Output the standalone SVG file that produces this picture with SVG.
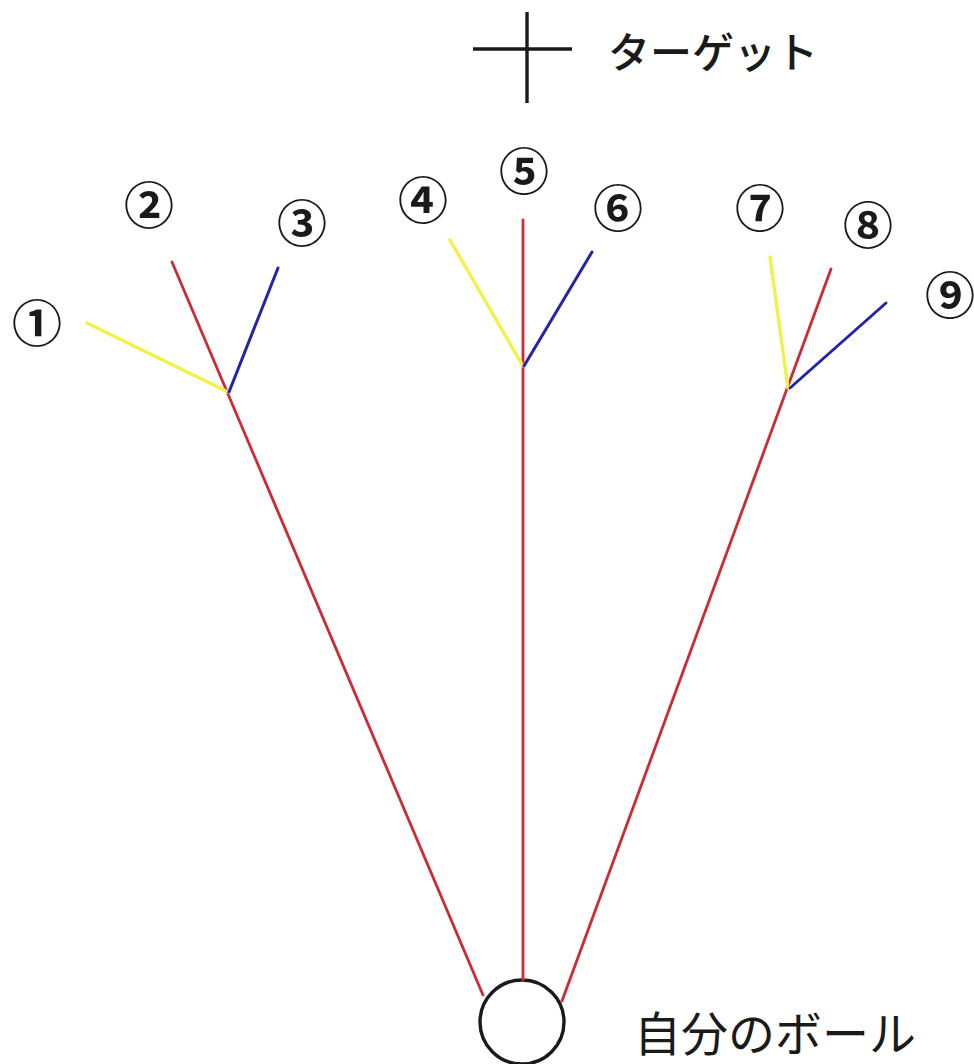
<svg xmlns="http://www.w3.org/2000/svg" width="974" height="1064" viewBox="0 0 974 1064">
  <style>
    .red { stroke: #cc2a35; stroke-width: 2.8; fill: none; stroke-linecap: round; }
    .yel { stroke: #f2f04a; stroke-width: 3.4; fill: none; stroke-linecap: round; }
    .blu { stroke: #2424a8; stroke-width: 3; fill: none; stroke-linecap: round; }
    .blk { stroke: #1a1a1a; stroke-width: 3.4; fill: none; }
    .num { font-family: "Noto Sans CJK JP", "DejaVu Sans", sans-serif; font-size: 50px; font-weight: 700; fill: #1a1a1a; text-anchor: middle; dominant-baseline: central; }
    .lbl { font-family: "Noto Sans CJK JP", sans-serif; fill: #1a1a1a; dominant-baseline: central; }
  </style>
  <rect width="974" height="1064" fill="#ffffff"/>

  <!-- target mark -->
  <g id="target">
    <line class="blk" x1="473" y1="49" x2="572" y2="49"/>
    <line class="blk" x1="527" y1="12" x2="527" y2="103"/>
    <text class="lbl" x="608" y="49" font-size="42" font-weight="500">ターゲット</text>
  </g>

  <!-- own ball -->
  <g id="ball">
    <circle class="blk" cx="522" cy="1022" r="42" fill="#ffffff"/>
    <text class="lbl" x="634" y="1030" font-size="47">自分のボール</text>
  </g>

  <!-- shot paths -->
  <g id="connectors">
    <line class="red" x1="483" y1="995" x2="172" y2="262"/>
    <line class="red" x1="523" y1="980" x2="523" y2="220"/>
    <line class="red" x1="562" y1="1001" x2="831" y2="269"/>

    <line class="yel" x1="228" y1="392" x2="87" y2="323"/>
    <line class="blu" x1="229" y1="392" x2="278" y2="268"/>

    <line class="yel" x1="523" y1="366" x2="450" y2="240"/>
    <line class="blu" x1="524" y1="366" x2="592" y2="252"/>

    <line class="yel" x1="788" y1="388" x2="770" y2="257"/>
    <line class="blu" x1="790" y1="388" x2="886" y2="303"/>
  </g>

  <!-- landing points -->
  <g id="p1"><text class="num" x="37" y="320">①</text></g>
  <g id="p2"><text class="num" x="149" y="202">②</text></g>
  <g id="p3"><text class="num" x="302" y="220">③</text></g>
  <g id="p4"><text class="num" x="423" y="197">④</text></g>
  <g id="p5"><text class="num" x="524" y="168">⑤</text></g>
  <g id="p6"><text class="num" x="618" y="205">⑥</text></g>
  <g id="p7"><text class="num" x="760" y="205">⑦</text></g>
  <g id="p8"><text class="num" x="868" y="222">⑧</text></g>
  <g id="p9"><text class="num" x="950" y="292">⑨</text></g>
</svg>
